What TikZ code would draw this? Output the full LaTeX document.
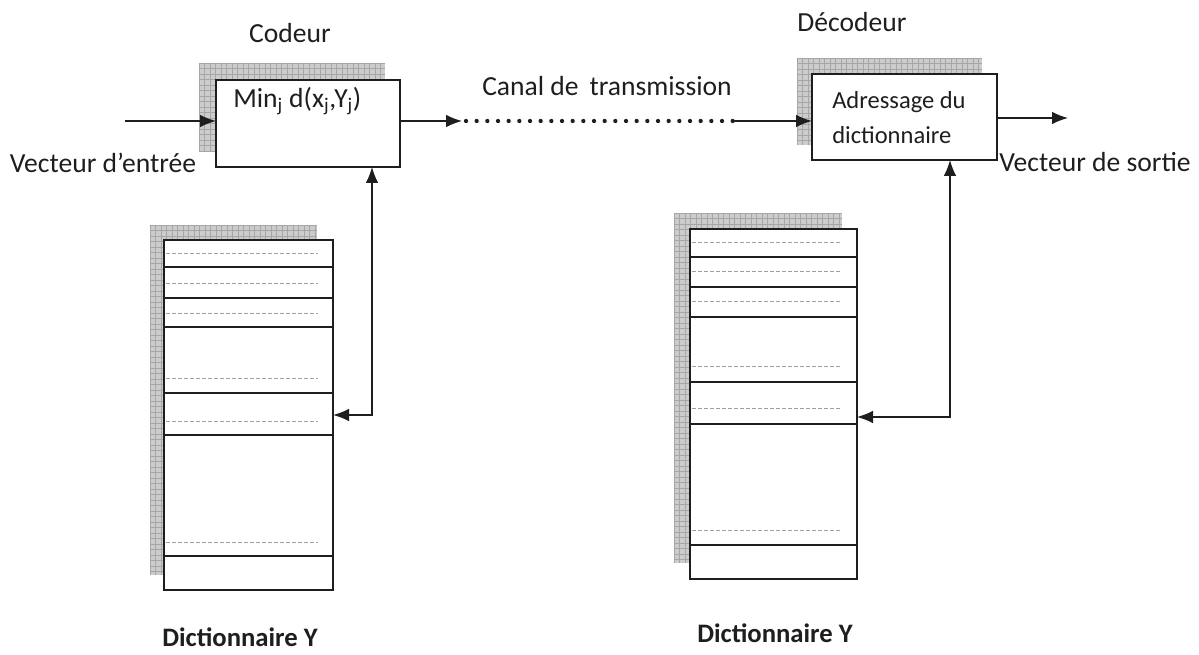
\documentclass[tikz,border=0pt]{standalone}
\usepackage{fontspec}
\setmainfont{Carlito}
\usetikzlibrary{arrows.meta}
\definecolor{ink}{HTML}{1E1E1E}
\tikzset{
  lbl/.style={font=\fontsize{20.7}{24}\selectfont, text=ink, inner sep=0pt},
  smalllbl/.style={font=\fontsize{18.4}{22}\selectfont, text=ink, inner sep=0pt},
  boldlbl/.style={font=\fontsize{20}{24}\selectfont\bfseries, text=ink, inner sep=0pt},
  blockbox/.style={draw=ink, line width=1.1pt, fill=white, inner sep=0pt, outer sep=0pt},
  shade/.style={fill=gray!40},
  conn/.style={draw=ink, line width=1.1pt},
  arrowend/.style={-{Latex[length=12pt,width=9.5pt]}},
  twoends/.style={{Latex[length=12pt,width=9.5pt]}-{Latex[length=12pt,width=9.5pt]}},
  sep/.style={draw=ink, line width=1.5pt},
  entry/.style={draw=gray!75, line width=0.5pt, dash pattern=on 3pt off 1.5pt},
}
% grey hatched backing plate behind a box
\newcommand{\gridplate}[4]{%
  \fill[shade] (#1,#2) rectangle (#3,#4);
  \begin{scope}
    \clip (#1,#2) rectangle (#3,#4);
    \pgfmathsetmacro{\nx}{int((#3-#1)/5.5)}
    \pgfmathsetmacro{\ny}{int((#4-#2)/5.5)}
    \foreach \i in {0,...,\nx} \draw[gray!70, line width=0.4pt] ({#1+\i*5.5},#2) -- ({#1+\i*5.5},#4);
    \foreach \j in {0,...,\ny} \draw[gray!70, line width=0.4pt] (#1,{#2+\j*5.5}) -- (#3,{#2+\j*5.5});
  \end{scope}}
\begin{document}
\begin{tikzpicture}[x=0.75pt, y=-0.75pt]
\useasboundingbox (0,0) rectangle (1199,655);

% ---------- encoder ----------
\gridplate{199}{63}{385}{152}
\node[blockbox, minimum width=184*0.75pt, minimum height=87*0.75pt, anchor=north west] (coder) at (216,80) {};
\node[lbl, anchor=west] (mintxt) at (233,101) {Min\textsubscript{j} d(x\textsubscript{j},Y\textsubscript{j})};
\node[lbl] (codeur) at (290,33) {Codeur};

% ---------- decoder ----------
\gridplate{797}{58}{982}{145}
\node[blockbox, minimum width=185*0.75pt, minimum height=86*0.75pt, anchor=north west] (decoder) at (812,74) {};
\node[smalllbl, anchor=west] (adr1) at (832,102) {Adressage du};
\node[smalllbl, anchor=west] (adr2) at (832,135) {dictionnaire};
\node[lbl] (decodeur) at (852,22) {Décodeur};

% ---------- input / output ----------
\coordinate (inp) at (125,121);
\draw[conn, arrowend] (inp) -- (coder.west |- inp);
\node[lbl] (vin) at (103,163) {Vecteur d’entrée};
\coordinate (outp) at (1068,118);
\draw[conn, arrowend] (decoder.east |- outp) -- (outp);
\node[lbl] (vout) at (1095,162) {Vecteur de sortie};

% ---------- transmission channel ----------
\coordinate (ch1) at (462,121);
\coordinate (ch2) at (733,121);
\draw[conn, arrowend] (coder.east |- ch1) -- (ch1);
\draw[ink, line width=3.2pt, line cap=round, dash pattern=on 0pt off 8pt] (ch1) ++(4,0) -- (ch2);
\draw[conn, arrowend] (ch2) -- (decoder.west |- ch2);
\node[lbl] (canal) at (607,86) {Canal de\, transmission};

% ---------- left codebook ----------
\gridplate{150}{225}{317}{575}
\node[blockbox, minimum width=169*0.75pt, minimum height=350*0.75pt, anchor=north west] (dictL) at (164,240) {};
\foreach \yy in {267,298,327,393,435,556} \draw[sep] (164,\yy) -- (333,\yy);
\foreach \yy in {253,283,313,378,421,542} \draw[entry] (166,\yy) -- (318,\yy);
\node[boldlbl] (dlL) at (240,637) {Dictionnaire Y};
\coordinate (kL) at (372,415);
\draw[conn, twoends] (dictL.east |- kL) -- (kL) -- (coder.south -| kL);

% ---------- right codebook ----------
\gridplate{674}{213}{842}{563}
\node[blockbox, minimum width=167*0.75pt, minimum height=350*0.75pt, anchor=north west] (dictR) at (690,229) {};
\foreach \yy in {257,287,317,382,424,545} \draw[sep] (690,\yy) -- (857,\yy);
\foreach \yy in {242,271,301,366,408,530} \draw[entry] (692,\yy) -- (842,\yy);
\node[boldlbl] (dlR) at (775,633) {Dictionnaire Y};
\coordinate (kR) at (950,417);
\draw[conn, twoends] (dictR.east |- kR) -- (kR) -- (decoder.south -| kR);
\end{tikzpicture}
\end{document}
